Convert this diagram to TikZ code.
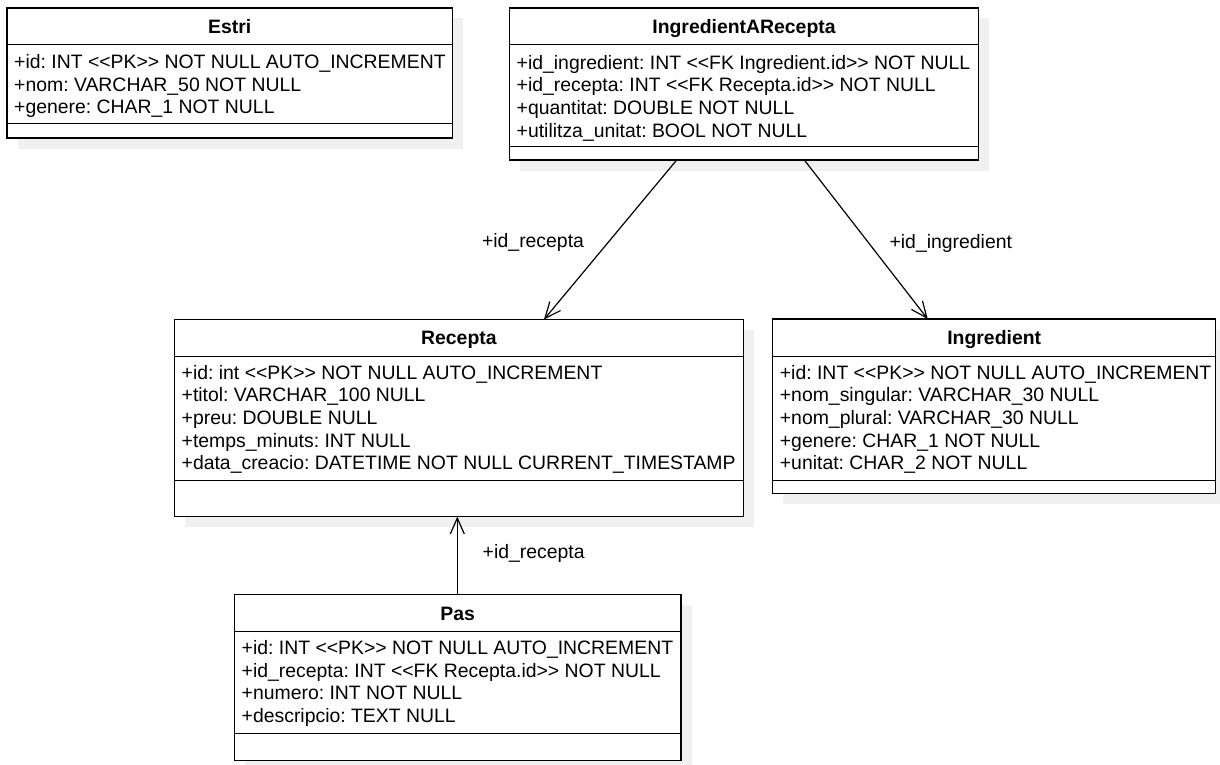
\documentclass[tikz,border=0pt]{standalone}
\usepackage{fontspec}
\newfontfamily\umlfont{Liberation Sans}
\usetikzlibrary{arrows.meta,shadows}
\definecolor{shadowgray}{RGB}{240,240,240}
\tikzset{
  umltext/.style={font=\umlfont\frenchspacing\fontsize{19.4}{22.6}\selectfont},
  classbox/.style={draw=black, line width=1.3pt, fill=white, outer sep=0pt,
    inner sep=0pt, anchor=north west,
    drop shadow={shadow xshift=10.5pt, shadow yshift=-10.5pt, fill=shadowgray, opacity=1}},
  compsep/.style={draw=black, line width=1.3pt},
  classtitle/.style={font=\umlfont\frenchspacing\bfseries\fontsize{19.4}{22.6}\selectfont,
    inner sep=0pt, anchor=base},
  attr/.style={umltext, inner sep=0pt, anchor=base west},
  lbl/.style={umltext, inner sep=0pt, anchor=center},
  assoc/.style={line width=1.2pt, draw=black, -{Straight Barb[length=16pt,width=14pt]}}
}
\begin{document}
\begin{tikzpicture}[x=1pt,y=-1pt]
\useasboundingbox (0,0) rectangle (1220,765);

% ---- Estri ----
\node[classbox, minimum width=445.5pt, minimum height=130pt] (estri) at (7,8) {};
\draw[compsep] (7,44.8) -- (452.5,44.8);
\draw[compsep] (7,123.8) -- (452.5,123.8);
\node[classtitle] (estri-t) at (229.75,33.4) {Estri};
\foreach \t [count=\i from 0] in {+id: INT <<PK>> NOT NULL AUTO\_INCREMENT,
    +nom: VARCHAR\_50 NOT NULL, +genere: CHAR\_1 NOT NULL}
  \node[attr] (estri-a\i) at (14,{68.6+22.6*\i}) {\t};

% ---- IngredientARecepta ----
\node[classbox, minimum width=469pt, minimum height=152pt] (iar) at (509.5,8) {};
\draw[compsep] (509.5,44.8) -- (978.5,44.8);
\draw[compsep] (509.5,146.4) -- (978.5,146.4);
\node[classtitle] (iar-t) at (744,33.4) {IngredientARecepta};
\foreach \t [count=\i from 0] in {+id\_ingredient: INT <<FK Ingredient.id>> NOT NULL,
    +id\_recepta: INT <<FK Recepta.id>> NOT NULL,
    +quantitat: DOUBLE NOT NULL, +utilitza\_unitat: BOOL NOT NULL}
  \node[attr] (iar-a\i) at (516.5,{69.2+22.6*\i}) {\t};

% ---- Recepta ----
\node[classbox, minimum width=568.8pt, minimum height=197pt] (recepta) at (174.5,319.5) {};
\draw[compsep] (174.5,356.5) -- (743.3,356.5);
\draw[compsep] (174.5,480.8) -- (743.3,480.8);
\node[classtitle] (recepta-t) at (458.9,344.9) {Recepta};
\foreach \t [count=\i from 0] in {+id: int <<PK>> NOT NULL AUTO\_INCREMENT,
    +titol: VARCHAR\_100 NULL, +preu: DOUBLE NULL, +temps\_minuts: INT NULL,
    +data\_creacio: DATETIME NOT NULL CURRENT\_TIMESTAMP}
  \node[attr] (recepta-a\i) at (181.5,{379.3+22.6*\i}) {\t};

% ---- Ingredient ----
\node[classbox, minimum width=443pt, minimum height=174.3pt] (ingredient) at (772.7,319) {};
\draw[compsep] (772.7,356.5) -- (1215.7,356.5);
\draw[compsep] (772.7,480.8) -- (1215.7,480.8);
\node[classtitle] (ingredient-t) at (994.2,344.6) {Ingredient};
\foreach \t [count=\i from 0] in {+id: INT <<PK>> NOT NULL AUTO\_INCREMENT,
    +nom\_singular: VARCHAR\_30 NULL, +nom\_plural: VARCHAR\_30 NULL,
    +genere: CHAR\_1 NOT NULL, +unitat: CHAR\_2 NOT NULL}
  \node[attr] (ingredient-a\i) at (779.7,{379.3+22.6*\i}) {\t};

% ---- Pas ----
\node[classbox, minimum width=446.5pt, minimum height=166.4pt] (pas) at (234.5,594.3) {};
\draw[compsep] (234.5,631.7) -- (681,631.7);
\draw[compsep] (234.5,733.6) -- (681,733.6);
\node[classtitle] (pas-t) at (457.75,620.2) {Pas};
\foreach \t [count=\i from 0] in {+id: INT <<PK>> NOT NULL AUTO\_INCREMENT,
    +id\_recepta: INT <<FK Recepta.id>> NOT NULL,
    +numero: INT NOT NULL, +descripcio: TEXT NULL}
  \node[attr] (pas-a\i) at (241.5,{654.5+22.6*\i}) {\t};

% ---- associations ----
\draw[assoc] ([xshift=167.2pt]iar.south west) -- ([xshift=369.5pt]recepta.north west);
\draw[assoc] ([xshift=294.8pt]iar.south west) -- ([xshift=155pt]ingredient.north west);
\draw[assoc] ([xshift=222.8pt]pas.north west) -- ([xshift=282.8pt]recepta.south west);

\node[lbl] (lbl-recepta) at (533,242.3) {+id\_recepta};
\node[lbl] (lbl-ingredient) at (950.8,243.3) {+id\_ingredient};
\node[lbl] (lbl-pas) at (533.7,553.3) {+id\_recepta};
\end{tikzpicture}
\end{document}
